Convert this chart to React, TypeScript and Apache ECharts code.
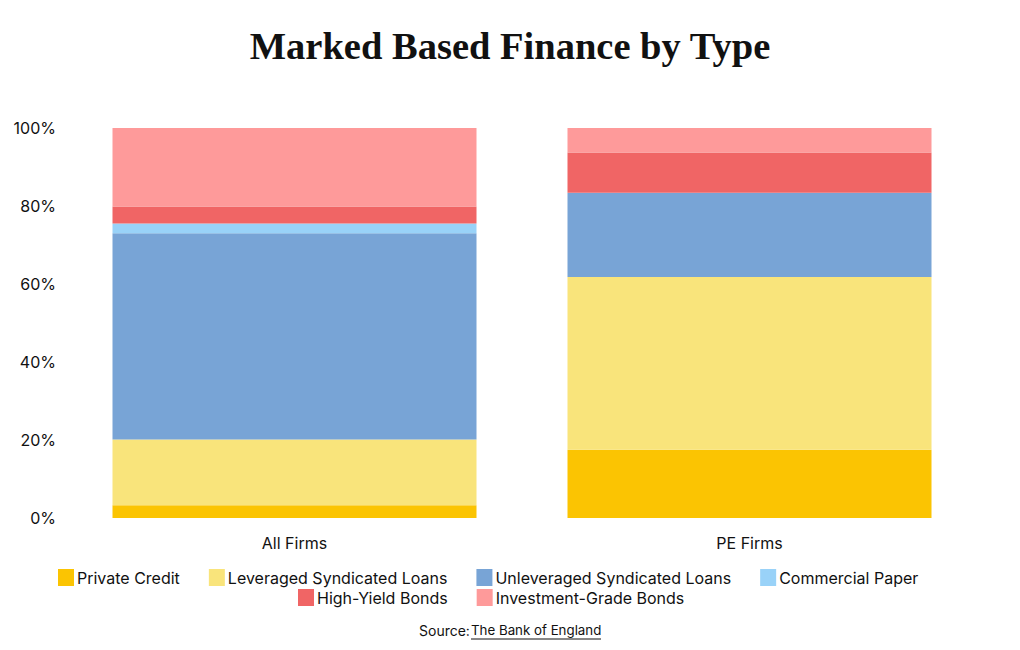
import React, { useEffect, useRef } from "react";
import * as echarts from "echarts";

const categories = ["All Firms", "PE Firms"];
const seriesNames = [
  "Private Credit",
  "Leveraged Syndicated Loans",
  "Unleveraged Syndicated Loans",
  "Commercial Paper",
  "High-Yield Bonds",
  "Investment-Grade Bonds",
];
const privateCredit = [3.3, 17.5];
const leveragedLoans = [16.8, 44.3];
const unleveragedLoans = [52.9, 21.6];
const commercialPaper = [2.5, 0];
const highYieldBonds = [4.4, 10.3];
const investmentGradeBonds = [20.1, 6.3];
const yTicks = [0, 20, 40, 60, 80, 100];

const colors = ["#FBC402", "#F9E47B", "#78A4D6", "#99D2F8", "#F06565", "#FE9A9A"];
const seriesValues = [
  privateCredit,
  leveragedLoans,
  unleveragedLoans,
  commercialPaper,
  highYieldBonds,
  investmentGradeBonds,
];

const FONT = "Inter";

export default function App() {
  const ref = useRef<HTMLDivElement>(null);
  useEffect(() => {
    if (!ref.current) return;
    const chart = echarts.init(ref.current, null, { renderer: "svg" });
    const legendCommon = {
      icon: "rect",
      itemWidth: 16,
      itemHeight: 17,
      itemGap: 29,
      textStyle: { fontFamily: FONT, fontSize: 16, color: "#111", padding: [0, 0, 0, -2] },
      selectedMode: false,
    };
    chart.setOption({
      animation: false,
      backgroundColor: "#ffffff",
      title: {
        text: "Marked Based Finance by Type",
        left: "center",
        top: 21,
        textStyle: {
          fontFamily: "Liberation Serif",
          fontWeight: "bold",
          fontSize: 38.5,
          color: "#111",
        },
      },
      legend: [
        { ...legendCommon, left: 53, top: 564, data: seriesNames.slice(0, 4) },
        { ...legendCommon, left: 293, top: 584, data: seriesNames.slice(4) },
      ],
      grid: { left: 67, right: 43, top: 128, bottom: 132 },
      xAxis: {
        type: "category",
        data: categories,
        axisLine: { show: false },
        axisTick: { show: false },
        axisLabel: { fontFamily: FONT, fontSize: 16, color: "#111", margin: 17 },
      },
      yAxis: {
        type: "value",
        min: yTicks[0],
        max: yTicks[yTicks.length - 1],
        interval: 20,
        splitLine: { show: false },
        axisLine: { show: false },
        axisTick: { show: false },
        axisLabel: {
          fontFamily: FONT,
          fontSize: 16,
          color: "#111",
          margin: 11,
          formatter: "{value}%",
        },
      },
      series: seriesNames.map((name, i) => ({
        name,
        type: "bar",
        stack: "total",
        data: seriesValues[i],
        barCategoryGap: "20%",
        itemStyle: { color: colors[i] },
      })),
      graphic: [
        {
          type: "text",
          x: 419,
          y: 623,
          style: {
            text: "Source: ",
            font: `14px ${FONT}`,
            fill: "#111",
          },
        },
        {
          type: "text",
          x: 471,
          y: 623.5,
          style: {
            text: "The Bank of England",
            font: `13.3px ${FONT}`,
            fill: "#111",
          },
        },
        {
          type: "line",
          shape: { x1: 471, y1: 639, x2: 601, y2: 639 },
          style: { stroke: "#111", lineWidth: 1 },
        },
      ],
    });
    return () => chart.dispose();
  }, []);
  return <div ref={ref} style={{ width: 1020, height: 650, margin: -8 }} />;
}
